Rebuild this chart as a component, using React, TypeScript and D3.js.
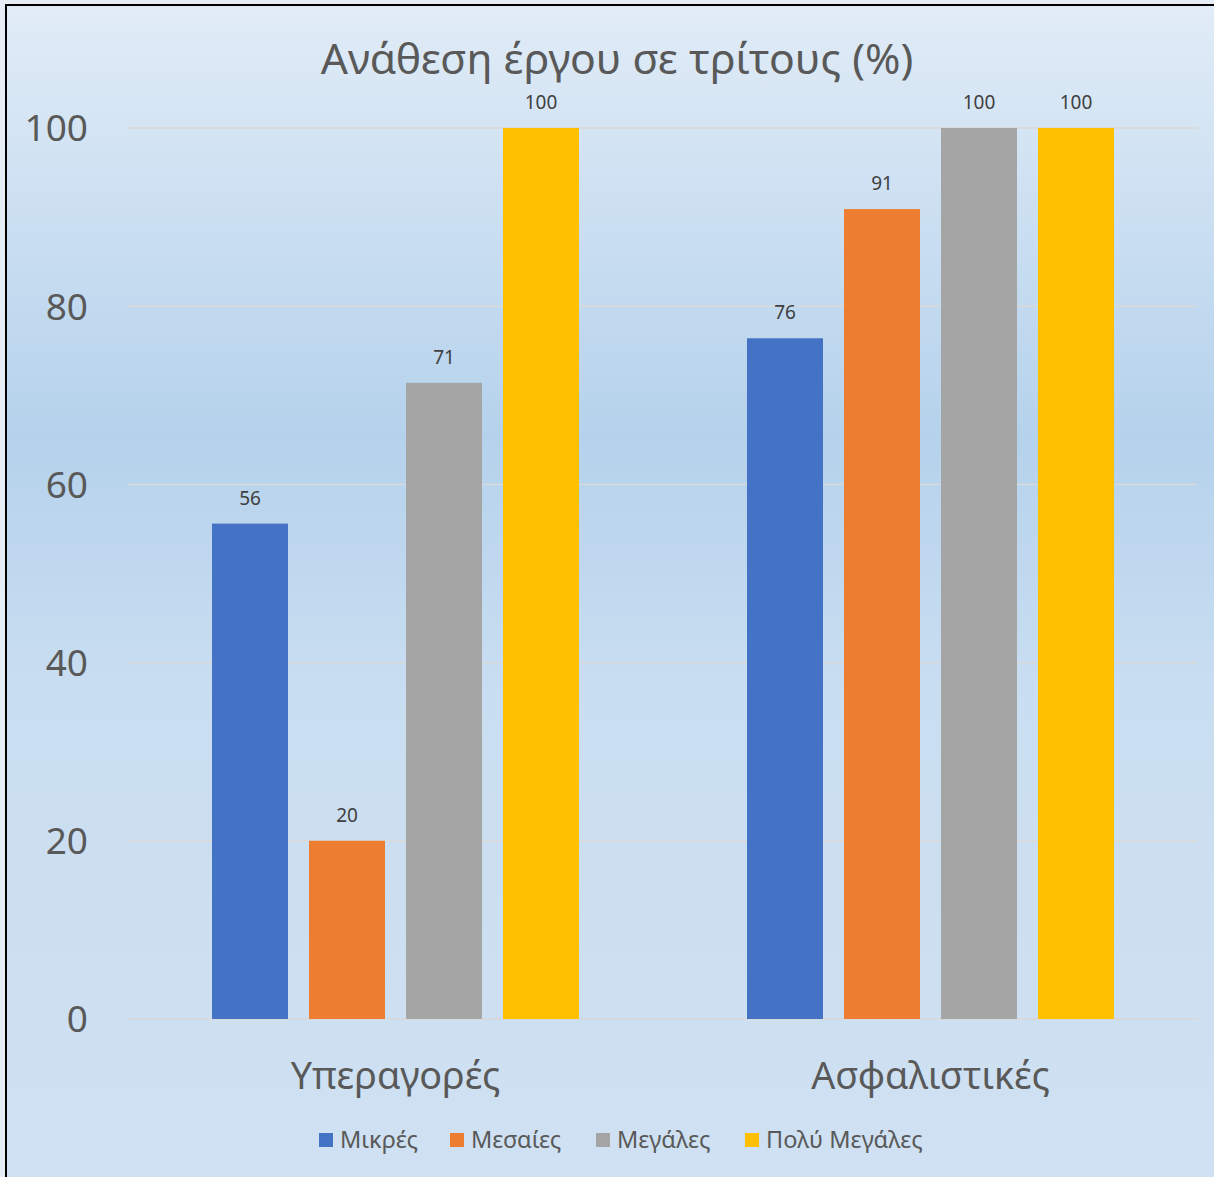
import * as React from "react";
import * as d3 from "d3";

const W = 1214;
const H = 1177;

const title = "Ανάθεση έργου σε τρίτους (%)";
const categories = ["Υπεραγορές", "Ασφαλιστικές"];
const seriesNames = ["Μικρές", "Μεσαίες", "Μεγάλες", "Πολύ Μεγάλες"];
const seriesColors = ["#4472c4", "#ed7d31", "#a5a5a5", "#ffc000"];
// values per series, in the order of categories
const mikres = [55.6, 76.4];
const mesaies = [20, 90.9];
const megales = [71.4, 100];
const polyMegales = [100, 100];
const yTicks = [0, 20, 40, 60, 80, 100];

const FONT = "'Noto Sans', 'Open Sans', sans-serif";

export default function App() {
  const series = [mikres, mesaies, megales, polyMegales];

  const margin = { left: 128, right: 16, top: 128, bottom: 158 };
  const x0 = d3.scaleBand<string>()
    .domain(categories)
    .range([margin.left, W - margin.right])
    .paddingInner(0)
    .paddingOuter(0);
  // inner band: 4 bars of 76px with 21px gaps, centred in each category band
  const groupWidth = 367;
  const x1 = d3.scaleBand<string>()
    .domain(seriesNames)
    .range([0, groupWidth])
    .paddingInner(21 / 97)
    .paddingOuter(0);
  const y = d3.scaleLinear().domain([0, 100]).range([H - margin.bottom, margin.top]);
  const fmt = d3.format(".0f");

  const legendX = [319, 450, 596, 745];

  return (
    <svg width={W} height={H} style={{ position: "absolute", left: 0, top: 0, fontFamily: FONT }}>
      <defs>
        <linearGradient id="bg" x1="0" y1="0" x2="0" y2="1">
          <stop offset="0" stopColor="#e1ecf7" />
          <stop offset="0.36" stopColor="#b5d2ec" />
          <stop offset="0.58" stopColor="#cadef1" />
          <stop offset="1" stopColor="#cfe1f2" />
        </linearGradient>
      </defs>
      <rect x={0} y={0} width={W} height={H} fill="#e6edf5" />
      <rect x={6} y={5} width={W + 20} height={H + 20} fill="url(#bg)" stroke="#000" strokeWidth={2} />

      <text x={617} y={74} textAnchor="middle" fontSize={42.7} fill="#595959">{title}</text>

      {yTicks.map(t => (
        <g key={t}>
          <line x1={margin.left} x2={W - margin.right} y1={y(t)} y2={y(t)} stroke="#d9d9d9" strokeWidth={1.5} />
          <text x={88} y={y(t)} dy="0.36em" textAnchor="end" fontSize={37} fill="#595959">{t}</text>
        </g>
      ))}

      {categories.map((c, ci) => {
        const gx = x0(c)! + (x0.bandwidth() - groupWidth) / 2;
        return (
          <g key={c}>
            {seriesNames.map((s, si) => {
              const v = series[si][ci];
              const bx = gx + x1(s)!;
              return (
                <g key={s}>
                  <rect x={bx} y={y(v)} width={x1.bandwidth()} height={y(0) - y(v)} fill={seriesColors[si]} />
                  <text x={bx + x1.bandwidth() / 2} y={y(v) - 19} textAnchor="middle" fontSize={19} fill="#404040">{fmt(v)}</text>
                </g>
              );
            })}
            <text x={x0(c)! + x0.bandwidth() / 2} y={1089} textAnchor="middle" fontSize={37.7} fill="#595959">{c}</text>
          </g>
        );
      })}

      {seriesNames.map((s, si) => (
        <g key={s} transform={`translate(${legendX[si]},1140)`}>
          <rect x={0} y={-7} width={14} height={14} fill={seriesColors[si]} />
          <text x={21} y={0} dy="0.35em" fontSize={23.5} fill="#595959">{s}</text>
        </g>
      ))}
    </svg>
  );
}
